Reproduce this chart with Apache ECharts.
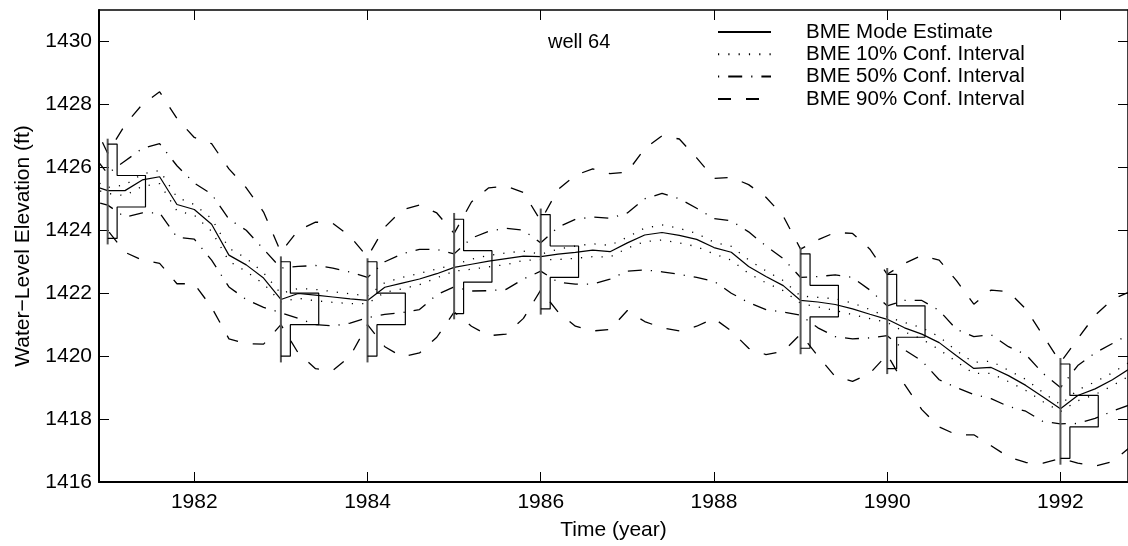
<!DOCTYPE html>
<html>
<head>
<meta charset="utf-8">
<script src="https://cdn.jsdelivr.net/npm/echarts@6/dist/echarts.min.js"></script>
<style>
html,body{margin:0;padding:0;background:#fff;}
#chart{width:1128px;height:546px;}
</style>
</head>
<body>
<div id="chart"></div>
<script>
// ---------- data ----------
const years = [1980.8,1981.0,1981.2,1981.4,1981.6,1981.8,
  1982.0,1982.2,1982.4,1982.6,1982.8,
  1983.0,1983.2,1983.4,1983.6,1983.8,
  1984.0,1984.2,1984.4,1984.6,1984.8,
  1985.0,1985.2,1985.4,1985.6,1985.8,
  1986.0,1986.2,1986.4,1986.6,1986.8,
  1987.0,1987.2,1987.4,1987.6,1987.8,
  1988.0,1988.2,1988.4,1988.6,1988.8,
  1989.0,1989.2,1989.4,1989.6,1989.8,
  1990.0,1990.2,1990.4,1990.6,1990.8,
  1991.0,1991.2,1991.4,1991.6,1991.8,
  1992.0,1992.2,1992.4,1992.6,1992.8];

const modeEstimate = [1425.45,1425.26,1425.26,1425.60,1425.70,1424.82,
  1424.66,1424.19,1423.21,1422.90,1422.48,
  1421.80,1421.99,1421.94,1421.88,1421.82,
  1421.77,1422.19,1422.32,1422.45,1422.62,
  1422.82,1422.92,1423.02,1423.10,1423.18,
  1423.16,1423.24,1423.30,1423.37,1423.32,
  1423.60,1423.85,1423.93,1423.84,1423.71,
  1423.45,1423.30,1422.85,1422.53,1422.24,
  1421.77,1421.72,1421.64,1421.50,1421.33,
  1421.17,1420.90,1420.70,1420.43,1420.01,
  1419.61,1419.64,1419.38,1419.07,1418.70,
  1418.33,1418.75,1418.96,1419.25,1419.60];

const ci10Upper = [1425.65,1425.36,1425.44,1425.79,1425.90,1425.05,
  1424.82,1424.37,1423.43,1423.11,1422.65,
  1421.99,1422.15,1422.12,1422.05,1421.98,
  1421.91,1422.34,1422.50,1422.63,1422.77,
  1422.90,1423.08,1423.20,1423.28,1423.34,
  1423.24,1423.40,1423.50,1423.57,1423.52,
  1423.78,1424.07,1424.17,1424.06,1423.90,
  1423.62,1423.49,1423.06,1422.71,1422.40,
  1421.91,1421.87,1421.82,1421.69,1421.48,
  1421.25,1421.07,1420.90,1420.62,1420.17,
  1419.80,1419.84,1419.55,1419.26,1418.84,
  1418.46,1418.93,1419.18,1419.47,1419.81];

const ci10Lower = [1425.35,1425.17,1425.10,1425.40,1425.48,1424.62,
  1424.48,1423.97,1423.02,1422.69,1422.30,
  1421.72,1421.84,1421.76,1421.71,1421.67,
  1421.67,1422.03,1422.14,1422.27,1422.49,
  1422.70,1422.76,1422.84,1422.91,1423.04,
  1423.07,1423.07,1423.11,1423.16,1423.15,
  1423.43,1423.64,1423.69,1423.60,1423.48,
  1423.25,1423.05,1422.63,1422.33,1422.08,
  1421.68,1421.56,1421.45,1421.32,1421.19,
  1421.07,1420.77,1420.54,1420.21,1419.82,
  1419.45,1419.45,1419.19,1418.91,1418.55,
  1418.24,1418.58,1418.78,1419.06,1419.38];

const ci50Upper = [1426.50,1425.80,1426.20,1426.60,1426.75,1426.05,
  1425.50,1425.15,1424.35,1424.00,1423.40,
  1422.80,1422.85,1422.88,1422.80,1422.67,
  1422.50,1423.00,1423.25,1423.39,1423.39,
  1423.25,1423.75,1423.97,1424.06,1424.00,
  1423.60,1424.10,1424.35,1424.42,1424.38,
  1424.55,1425.00,1425.17,1425.00,1424.70,
  1424.37,1424.30,1423.95,1423.50,1423.10,
  1422.50,1422.53,1422.58,1422.50,1422.10,
  1421.60,1421.77,1421.77,1421.45,1420.85,
  1420.62,1420.68,1420.30,1420.05,1419.45,
  1419.00,1419.70,1420.10,1420.40,1420.70];

const ci50Lower = [1424.95,1424.80,1424.42,1424.55,1424.55,1423.78,
  1423.72,1423.05,1422.20,1421.80,1421.55,
  1421.38,1421.20,1421.00,1420.96,1421.05,
  1421.22,1421.33,1421.38,1421.48,1421.95,
  1422.20,1422.07,1422.08,1422.12,1422.45,
  1422.70,1422.35,1422.29,1422.29,1422.45,
  1422.70,1422.74,1422.68,1422.60,1422.50,
  1422.38,1422.00,1421.70,1421.48,1421.40,
  1421.30,1420.90,1420.62,1420.55,1420.58,
  1420.65,1420.20,1419.85,1419.25,1419.00,
  1418.78,1418.65,1418.40,1418.25,1417.92,
  1417.85,1417.86,1418.02,1418.25,1418.45];

const ci90Upper = [1427.60,1426.45,1427.35,1428.00,1428.40,1427.55,
  1426.95,1426.75,1425.95,1425.35,1424.58,
  1423.30,1424.00,1424.26,1424.22,1423.80,
  1423.15,1424.10,1424.65,1424.80,1424.55,
  1423.90,1424.90,1425.35,1425.40,1425.20,
  1424.30,1425.30,1425.75,1425.95,1425.80,
  1425.85,1426.60,1427.00,1426.90,1426.30,
  1425.65,1425.68,1425.45,1425.05,1424.45,
  1423.40,1423.70,1423.93,1423.90,1423.40,
  1422.60,1422.95,1423.20,1423.05,1422.40,
  1421.65,1422.10,1422.05,1421.50,1420.65,
  1419.80,1420.55,1421.30,1421.80,1422.05];

const ci90Lower = [1424.60,1424.00,1423.30,1423.05,1422.95,1422.30,
  1422.30,1421.55,1420.55,1420.40,1420.38,
  1421.00,1420.10,1419.60,1419.55,1420.00,
  1421.00,1420.30,1419.98,1420.10,1420.60,
  1421.40,1420.95,1420.65,1420.70,1421.20,
  1422.10,1421.40,1420.95,1420.80,1420.85,
  1421.45,1421.10,1420.90,1420.80,1420.95,
  1421.20,1420.80,1420.25,1420.05,1420.15,
  1420.70,1420.00,1419.35,1419.20,1419.45,
  1420.05,1419.10,1418.30,1417.75,1417.50,
  1417.50,1417.15,1416.80,1416.62,1416.60,
  1416.75,1416.60,1416.50,1416.65,1417.10];

// soft (interval) data at the monitoring times, drawn as pdf histograms
const obsYears      = [1981, 1983, 1984, 1985, 1986, 1989, 1990, 1992];
const supportLow    = [1423.55, 1419.80, 1419.80, 1421.17, 1421.32, 1420.06, 1419.43, 1416.55];
const supportHigh   = [1426.91, 1423.17, 1423.11, 1424.55, 1424.69, 1423.45, 1422.80, 1419.94];
const pdfLow        = [1423.74, 1420.00, 1420.00, 1421.35, 1421.50, 1420.25, 1419.60, 1416.75];
const pdfHigh       = [1426.74, 1423.00, 1423.00, 1424.35, 1424.50, 1423.25, 1422.60, 1419.75];
const pdfCoreLow    = [1424.74, 1421.00, 1421.00, 1422.35, 1422.50, 1421.25, 1420.60, 1417.75];
const pdfCoreHigh   = [1425.74, 1422.00, 1422.00, 1423.35, 1423.50, 1422.25, 1421.60, 1418.75];
const pdfTailDensity = [0.1667, 0.1667, 0.1667, 0.1667, 0.1667, 0.1667, 0.1667, 0.1667];
const pdfCoreDensity = [0.6667, 0.6667, 0.6667, 0.6667, 0.6667, 0.6667, 0.6667, 0.6667];

const xTicks = [1982, 1984, 1986, 1988, 1990, 1992];
const yTicks = [1416, 1418, 1420, 1422, 1424, 1426, 1428, 1430];
const legendNames = ['BME Mode Estimate', 'BME 10% Conf. Interval', 'BME 50% Conf. Interval', 'BME 90% Conf. Interval'];
const wellLabel = 'well 64';

// ---------- drawing ----------
const FONT = '"Liberation Sans", Arial, Helvetica, sans-serif';
const PDF_SCALE = 0.655; // years of horizontal extent per unit of pdf density
const DOTTED = [1.2, 9.1];
const DASHDOT = [1.2, 9, 14, 9];
const DASHED = [13, 15];

function pairs(ys) { return years.map((t, i) => [t, ys[i]]); }
function curve(name, ys, dash, w) {
  return {
    type: 'line', name: name, data: pairs(ys),
    symbol: 'none', showSymbol: false, silent: true, clip: true, z: 3,
    lineStyle: { color: '#000', width: w, type: dash },
    itemStyle: { color: '#000' }
  };
}

const series = [
  curve(legendNames[0], modeEstimate, 'solid', 1.2),
  curve(legendNames[1], ci10Upper, DOTTED, 1.3),
  curve(legendNames[1], ci10Lower, DOTTED, 1.3),
  curve(legendNames[2], ci50Upper, DASHDOT, 1.3),
  curve(legendNames[2], ci50Lower, DASHDOT, 1.3),
  curve(legendNames[3], ci90Upper, DASHED, 1.3),
  curve(legendNames[3], ci90Lower, DASHED, 1.3)
];

obsYears.forEach((t, i) => {
  const w1 = t + pdfTailDensity[i] * PDF_SCALE;
  const w2 = t + pdfCoreDensity[i] * PDF_SCALE;
  series.push({
    type: 'line', name: 'pdf-axis-' + t, symbol: 'none', silent: true, clip: true, z: 4,
    data: [[t, supportLow[i]], [t, supportHigh[i]]],
    lineStyle: { color: '#555', width: 2, type: 'solid' }
  });
  series.push({
    type: 'line', name: 'pdf-' + t, symbol: 'none', silent: true, clip: true, z: 5,
    data: [[t, pdfHigh[i]], [w1, pdfHigh[i]], [w1, pdfCoreHigh[i]], [w2, pdfCoreHigh[i]],
           [w2, pdfCoreLow[i]], [w1, pdfCoreLow[i]], [w1, pdfLow[i]], [t, pdfLow[i]]],
    lineStyle: { color: '#000', width: 1.2, type: 'solid' }
  });
});

const chart = echarts.init(document.getElementById('chart'), null, { renderer: 'canvas' });
const XMIN = 1980.9, XMAX = 1992.78;
const tickStyle = { color: '#000', width: 1 };

chart.setOption({
  animation: false,
  backgroundColor: '#fff',
  textStyle: { fontFamily: FONT, color: '#000' },
  grid: { left: 99, right: -5, top: 10, bottom: 60, containLabel: false },
  legend: {
    data: legendNames,
    orient: 'vertical',
    left: 717, top: 21,
    padding: 0,
    itemWidth: 53, itemHeight: 14, itemGap: 0.3,
    selectedMode: false,
    itemStyle: { color: 'rgba(0,0,0,0)', borderColor: 'rgba(0,0,0,0)', borderWidth: 0, opacity: 0 },
    textStyle: { fontFamily: FONT, fontSize: 20.5, color: '#000', lineHeight: 22, padding: [0, 0, 0, 30] }
  },
  graphic: [{
    type: 'text', left: 548, top: 32, silent: true,
    style: { text: wellLabel, font: '20px ' + FONT, fill: '#000' }
  }],
  xAxis: [{
    type: 'value', position: 'bottom', min: XMIN, max: XMAX,
    axisLine: { show: true, onZero: false, lineStyle: { color: '#000', width: 2 } },
    axisTick: { show: true, inside: true, length: 10, customValues: xTicks, lineStyle: tickStyle },
    axisLabel: { show: true, customValues: xTicks, margin: 10, fontSize: 21, fontFamily: FONT, color: '#000',
                 formatter: v => String(v) },
    splitLine: { show: false },
    name: 'Time (year)', nameLocation: 'middle', nameGap: 38,
    nameTextStyle: { fontSize: 21, fontFamily: FONT, color: '#000' }
  }, {
    type: 'value', position: 'top', min: XMIN, max: XMAX,
    axisLine: { show: true, onZero: false, lineStyle: { color: '#000', width: 1.5 } },
    axisTick: { show: true, inside: true, length: 10, customValues: xTicks, lineStyle: tickStyle },
    axisLabel: { show: false },
    splitLine: { show: false }
  }],
  yAxis: [{
    type: 'value', position: 'left', min: 1416, max: 1431,
    axisLine: { show: true, onZero: false, lineStyle: { color: '#000', width: 2 } },
    axisTick: { show: true, inside: true, length: 10, customValues: yTicks, lineStyle: tickStyle },
    axisLabel: { show: true, customValues: yTicks, margin: 7, fontSize: 21, fontFamily: FONT, color: '#000',
                 formatter: v => String(v) },
    splitLine: { show: false },
    name: 'Water\u2212Level Elevation (ft)', nameLocation: 'middle', nameGap: 65, nameRotate: 90,
    nameTextStyle: { fontSize: 21, fontFamily: FONT, color: '#000' }
  }, {
    type: 'value', position: 'right', min: 1416, max: 1431,
    axisLine: { show: true, onZero: false, lineStyle: { color: '#000', width: 1.5 } },
    axisTick: { show: true, inside: true, length: 10, customValues: yTicks, lineStyle: tickStyle },
    axisLabel: { show: false },
    splitLine: { show: false }
  }],
  series: series
});
</script>
</body>
</html>
